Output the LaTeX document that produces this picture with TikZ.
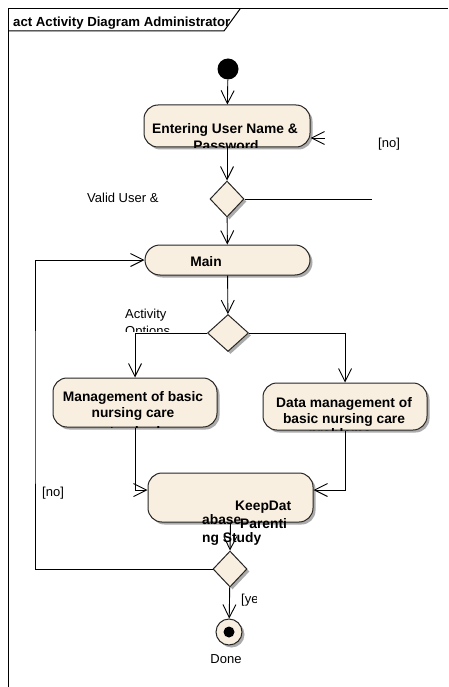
\documentclass[tikz,border=0pt]{standalone}
\usepackage{fontspec}
\setmainfont{Liberation Sans}
\usetikzlibrary{arrows.meta,shapes.geometric,shadows}
\definecolor{actfill}{RGB}{249,239,224}
\begin{document}
\begin{tikzpicture}[x=1pt,y=-1pt,
  lbl/.style={font=\fontsize{13}{15}\selectfont, inner sep=0pt, anchor=base west},
  btext/.style={font=\bfseries\fontsize{13.8}{16}\selectfont, inner sep=0pt, anchor=base},
  dropsh/.style={drop shadow={shadow xshift=2.5pt,shadow yshift=-2.5pt,fill=black!60,opacity=0.55}},
  action/.style={draw=black!85, line width=1pt, fill=actfill, rounded corners=14pt, inner sep=0pt, dropsh},
  choice/.style={diamond, draw=black!85, line width=1pt, fill=actfill, inner sep=0pt, dropsh},
  flow/.style={line width=0.9pt, -{Straight Barb[length=13pt,width=13pt]}},
  plain/.style={line width=0.9pt}]

\useasboundingbox (0,0) rectangle (448,687);
\fill[white] (0,0) rectangle (448,687);

% diagram frame and its name tab
\draw[line width=1pt] (8,687) -- (8,9) -- (448,9);
\draw[line width=1pt] (8,31) -- (224,31) -- (240,9);
\begin{scope}
  \clip (8,9) -- (240,9) -- (224,31) -- (8,31) -- cycle;
  \node[btext, font=\bfseries\fontsize{13.2}{16}\selectfont, anchor=base west] (title) at (13,27) {act Activity Diagram Administrator};
\end{scope}

% nodes
\node[circle, fill=black, minimum size=21pt, inner sep=0pt] (start) at (228,69) {};
\node[action, minimum width=166pt, minimum height=42pt] (enter) at (227,126) {};
\node[choice, minimum width=34pt, minimum height=36pt] (valid) at (227,199) {};
\node[action, minimum width=165pt, minimum height=30pt, rounded corners=15pt] (main) at (227.5,260) {};
\node[choice, minimum width=41pt, minimum height=37pt] (opts) at (228,333) {};
\node[action, minimum width=164pt, minimum height=49pt] (mgmt) at (135,402.5) {};
\node[action, minimum width=164pt, minimum height=47pt] (data) at (345,406.5) {};
\node[action, minimum width=165pt, minimum height=49pt] (keep) at (230.5,497.5) {};
\node[choice, minimum width=34pt, minimum height=36pt] (again) at (230,569) {};
\node[circle, draw=black!85, line width=1pt, fill=actfill, minimum size=26pt, inner sep=0pt, dropsh] (done) at (229,632) {};
\node[circle, fill=black, minimum size=11pt, inner sep=0pt] (donedot) at (done.center) {};

\coordinate (noout) at (372,199);
\coordinate (noin) at (325,138);
\coordinate (loop) at (35,400);

% action texts (clipped to their boxes)
\begin{scope}
  \clip[rounded corners=14pt] (enter.south west) rectangle (enter.north east);
  \node[btext] (enterA) at (225,134) {Entering User Name \&};
  \node[btext] (enterB) at (226,151) {Password};
\end{scope}
\node[btext] (mainT) at (206,266) {Main};
\begin{scope}
  \clip[rounded corners=14pt] (mgmt.south west) rectangle (mgmt.north east);
  \node[btext] (mgmtA) at (133,401) {Management of basic};
  \node[btext] (mgmtB) at (133,417) {nursing care};
  \node[btext] (mgmtC) at (135,436.5) {standards};
\end{scope}
\begin{scope}
  \clip[rounded corners=14pt] (data.south west) rectangle (data.north east);
  \node[btext] (dataA) at (344,407) {Data management of};
  \node[btext] (dataB) at (344,423) {basic nursing care};
  \node[btext] (dataC) at (340,438.5) {problems};
\end{scope}
\node[btext, anchor=base west] (keepA) at (235,510) {KeepDat};
\node[btext, anchor=base west] (keepB) at (202,524) {abase};
\node[btext, anchor=base west] (keepC) at (240,528) {Parenti};
\node[btext, anchor=base west] (keepD) at (202,542) {ng Study};

% connectors
\draw[flow] (start) -- (enter);
\draw[flow] (enter) -- (valid);
\draw[flow] (valid) -- (main);
\draw[plain] (valid.east) -- (noout);
\draw[flow] (noin) -- (noin -| enter.east);
\draw[flow] (main) -- (opts);
\draw[flow] (opts.west) -| (mgmt.north);
\draw[flow] (opts.east) -| (data.north);
\draw[flow] (mgmt.south) |- ([yshift=7.5pt]keep.west);
\draw[flow] (data.south) |- ([yshift=7.5pt]keep.east);
\draw[flow] (keep.south) -- (again.north);
\draw[flow] (again) -- (done);
\draw[flow] (again.west) -| (loop) |- (main.west);

% guard and flow labels
\node[lbl] (validL) at (87,202) {Valid User \&};
\begin{scope}
  \clip (120,300) rectangle (200,331);
  \node[lbl] (optsA) at (125,318) {Activity};
  \node[lbl] (optsB) at (125,335) {Options};
\end{scope}
\node[lbl] (noR) at (378,148) {[no]};
\node[lbl] (noL) at (42,496) {[no]};
\begin{scope}
  \clip (236,585) rectangle (256,610);
  \node[lbl] (yes) at (241,603) {[yes]};
\end{scope}
\node[lbl, anchor=base] (doneL) at (226,663) {Done};
\end{tikzpicture}
\end{document}
